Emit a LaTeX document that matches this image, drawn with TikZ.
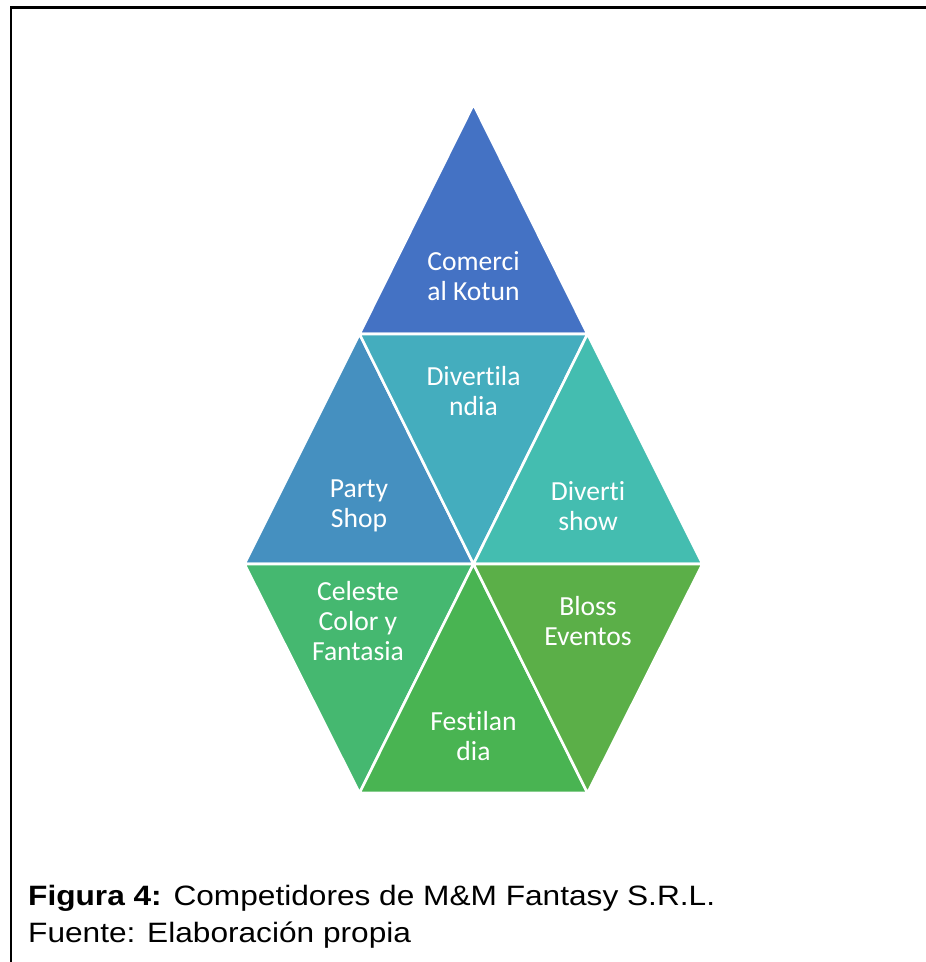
\documentclass[tikz,border=0pt]{standalone}
\usepackage{fontspec}
\newfontfamily\trifont[Ligatures=NoCommon]{Carlito}
\newfontfamily\capfont[FakeStretch=1.13]{Liberation Sans}
\definecolor{cA}{HTML}{4472C4}
\definecolor{cB}{HTML}{4590C0}
\definecolor{cC}{HTML}{44ADBE}
\definecolor{cD}{HTML}{44BDB0}
\definecolor{cE}{HTML}{45B870}
\definecolor{cF}{HTML}{49B452}
\definecolor{cG}{HTML}{5BAF48}
\tikzset{
  tri/.style={draw=white, line width=2.6pt, line join=miter},
  lbl/.style={text=white, align=center, font=\trifont\fontsize{27.6}{30}\selectfont, inner sep=0pt},
  captext/.style={anchor=base west, inner sep=0pt, font=\capfont\fontsize{28}{30}\selectfont},
}
\begin{document}
\begin{tikzpicture}[x=1pt,y=-1pt]
\useasboundingbox (0,0) rectangle (926,962);
% grid coordinates
\coordinate (x0r0) at (473.5,104.5);
\coordinate (x1r1) at (359.5,334);
\coordinate (x3r1) at (587.5,334);
\coordinate (x-1r2) at (244.5,564);
\coordinate (x0r2) at (473.5,564);
\coordinate (x2r2) at (702.5,564);
\coordinate (x1r3) at (359.5,793);
\coordinate (x3r3) at (587.5,793);
% triangles
\fill[cA] (x0r0) -- (x3r1) -- (x1r1) -- cycle;
\draw[tri] (x0r0) -- (x3r1) -- (x1r1) -- cycle;
\fill[cB] (x1r1) -- (x0r2) -- (x-1r2) -- cycle;
\draw[tri] (x1r1) -- (x0r2) -- (x-1r2) -- cycle;
\fill[cC] (x1r1) -- (x3r1) -- (x0r2) -- cycle;
\draw[tri] (x1r1) -- (x3r1) -- (x0r2) -- cycle;
\fill[cD] (x3r1) -- (x2r2) -- (x0r2) -- cycle;
\draw[tri] (x3r1) -- (x2r2) -- (x0r2) -- cycle;
\fill[cE] (x-1r2) -- (x0r2) -- (x1r3) -- cycle;
\draw[tri] (x-1r2) -- (x0r2) -- (x1r3) -- cycle;
\fill[cF] (x0r2) -- (x3r3) -- (x1r3) -- cycle;
\draw[tri] (x0r2) -- (x3r3) -- (x1r3) -- cycle;
\fill[cG] (x0r2) -- (x2r2) -- (x3r3) -- cycle;
\draw[tri] (x0r2) -- (x2r2) -- (x3r3) -- cycle;
% labels
\node[lbl] (kotun) at (473.5,276) {Comerci\\al Kotun};
\node[lbl] (divl) at (473.5,391) {Divertila\\ndia};
\node[lbl] (party) at (359,506) {Party\\Shop};
\node[lbl] (divs) at (588,506) {Diverti\\show};
\node[lbl] (celeste) at (358,621) {Celeste\\Color y\\Fantasia};
\node[lbl] (bloss) at (588,621) {Bloss\\Eventos};
\node[lbl] (festi) at (473.5,736) {Festilan\\dia};
% frame
\draw[line width=2.2pt, line join=miter] (11,962) -- (11,7.5) -- (926,7.5);
% caption
\node[captext] (cap1) at (28,905) {\textbf{Figura 4:} Competidores de M\&M Fantasy S.R.L.};
\node[captext] (cap2) at (28,942) {Fuente: Elaboración propia};
\end{tikzpicture}
\end{document}
